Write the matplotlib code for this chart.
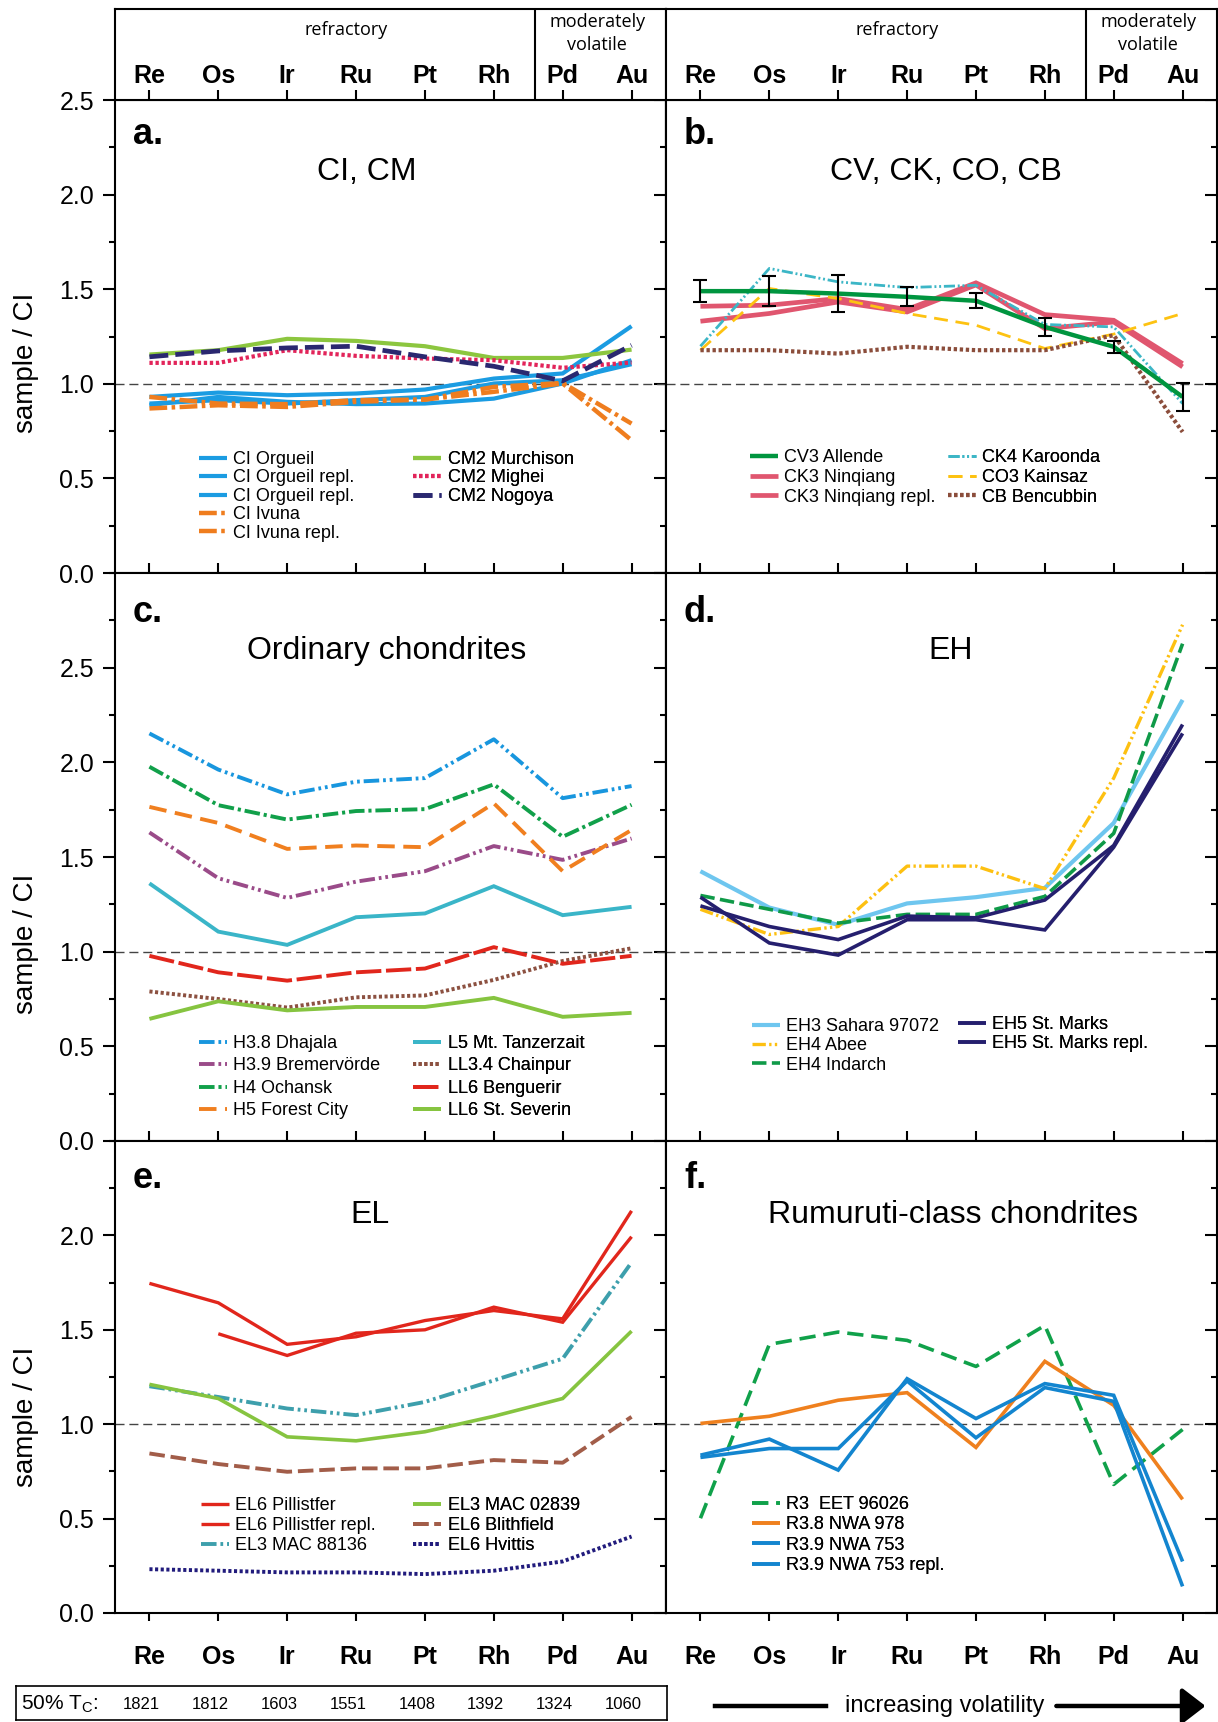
import numpy as np
import matplotlib
matplotlib.use("Agg")
import matplotlib.pyplot as plt
from matplotlib.ticker import MultipleLocator
from matplotlib.lines import Line2D

plt.rcParams['font.family'] = ['Liberation Sans', 'DejaVu Sans']
plt.rcParams['mathtext.fontset'] = 'custom'
plt.rcParams['mathtext.rm'] = 'Liberation Sans'
plt.rcParams['axes.linewidth'] = 1.5

elements = ['Re', 'Os', 'Ir', 'Ru', 'Pt', 'Rh', 'Pd', 'Au']
tc_50 = [1821, 1812, 1603, 1551, 1408, 1392, 1324, 1060]

# a. CI, CM
ci_orgueil = [0.931, 0.954, 0.940, 0.949, 0.970, 1.028, 1.055, 1.305]
ci_orgueil_r1 = [0.887, 0.931, 0.905, 0.893, 0.896, 0.922, 1.002, 1.125]
ci_orgueil_r2 = [0.896, 0.914, 0.896, 0.914, 0.931, 1.002, 1.019, 1.104]
ci_ivuna = [0.931, 0.896, 0.893, 0.914, 0.917, 0.984, 1.005, 0.790]
ci_ivuna_r = [0.870, 0.887, 0.878, 0.905, 0.917, 0.958, 1.002, 0.702]
cm_murchison = [1.155, 1.178, 1.238, 1.227, 1.199, 1.137, 1.137, 1.181]
cm_mighei = [1.111, 1.111, 1.178, 1.148, 1.134, 1.125, 1.085, 1.113]
cm_nogoya = [1.143, 1.174, 1.190, 1.199, 1.143, 1.093, 1.016, 1.204]

# b. CV, CK, CO, CB
cv_allende = [1.490, 1.490, 1.477, 1.460, 1.439, 1.301, 1.196, 0.931]
cv_allende_err = [0.057, 0.078, 0.097, 0.051, 0.040, 0.049, 0.032, 0.076]
ck_ninqiang = [1.410, 1.416, 1.451, 1.393, 1.534, 1.366, 1.336, 1.107]
ck_ninqiang_r = [1.331, 1.372, 1.433, 1.380, 1.523, 1.292, 1.327, 1.090]
ck_karoonda = [1.199, 1.610, 1.539, 1.509, 1.521, 1.314, 1.301, 0.896]
co_kainsaz = [1.178, 1.504, 1.451, 1.372, 1.310, 1.187, 1.263, 1.372]
cb_bencubbin = [1.178, 1.178, 1.160, 1.196, 1.178, 1.178, 1.257, 0.746]

# c. ordinary chondrites
h_dhajala = [2.153, 1.962, 1.831, 1.898, 1.917, 2.122, 1.811, 1.875]
h_bremervoerde = [1.630, 1.388, 1.284, 1.370, 1.425, 1.558, 1.485, 1.598]
h_ochansk = [1.977, 1.774, 1.698, 1.743, 1.753, 1.884, 1.607, 1.776]
h_forest_city = [1.765, 1.680, 1.543, 1.561, 1.552, 1.784, 1.425, 1.643]
l_tanzerzait = [1.361, 1.106, 1.036, 1.182, 1.202, 1.346, 1.193, 1.237]
ll_chainpur = [0.790, 0.750, 0.705, 0.759, 0.769, 0.851, 0.951, 1.018]
ll_benguerir = [0.978, 0.891, 0.847, 0.891, 0.911, 1.024, 0.936, 0.978]
ll_st_severin = [0.645, 0.738, 0.690, 0.708, 0.708, 0.756, 0.656, 0.677]

# d. EH
eh_sahara = [1.425, 1.233, 1.142, 1.255, 1.288, 1.337, 1.680, 2.330]
eh_abee = [1.224, 1.091, 1.133, 1.452, 1.452, 1.333, 1.917, 2.727]
eh_indarch = [1.297, 1.224, 1.151, 1.197, 1.197, 1.292, 1.625, 2.627]
eh_st_marks = [1.242, 1.133, 1.064, 1.188, 1.179, 1.273, 1.561, 2.200]
eh_st_marks_r = [1.288, 1.046, 0.982, 1.169, 1.169, 1.115, 1.552, 2.153]

# e. EL
el_pillistfer = [1.746, 1.643, 1.423, 1.463, 1.549, 1.602, 1.558, 2.130]
el_pillistfer_r = [np.nan, 1.479, 1.364, 1.482, 1.500, 1.620, 1.540, 1.993]
el_mac88136 = [1.201, 1.144, 1.083, 1.048, 1.118, 1.232, 1.347, 1.857]
el_mac02839 = [1.211, 1.136, 0.933, 0.912, 0.960, 1.042, 1.136, 1.493]
el_blithfield = [0.845, 0.789, 0.748, 0.766, 0.766, 0.810, 0.796, 1.039]
el_hvittis = [0.232, 0.224, 0.215, 0.215, 0.206, 0.224, 0.273, 0.405]

# f. Rumuruti
r_eet96026 = [0.502, 1.423, 1.488, 1.444, 1.306, 1.523, 0.681, 0.972]
r_nwa978 = [1.004, 1.042, 1.127, 1.167, 0.877, 1.333, 1.100, 0.602]
r_nwa753 = [0.836, 0.921, 0.757, 1.241, 1.030, 1.215, 1.153, 0.273]
r_nwa753_r = [0.824, 0.871, 0.871, 1.229, 0.928, 1.194, 1.121, 0.141]

x = np.arange(len(elements))

# dash patterns (in units of line width)
DOT = (0.8, 0.65)
DASH = (4.0, 1.5)
LONGDASH = (6.5, 1.2)
DASHDOT = (4.0, 1.0, 0.8, 1.0)
DASHDOTDOT = (4.0, 1.0, 0.7, 1.0, 0.7, 1.0)

fig = plt.figure(figsize=(12.18, 17.22), dpi=100)

XL, XR, W = 0.0944, 0.5468, 0.4524
# (bottom, height, y max, highest labelled tick)
ROWS = [(0.6672, 0.2747, 2.5, 2.5), (0.3374, 0.3298, 3.0, 2.5), (0.0633, 0.2741, 2.5, 2.0)]


def setup(ax, top, label_top, left_col, bottom_row):
    ax.set_xlim(-0.5, 7.5)
    ax.set_ylim(0, top)
    ax.set_xticks(x)
    ax.axhline(1.0, color='#444444', lw=1.0, dashes=(6.5, 3.5), zorder=1)
    if bottom_row:
        ax.tick_params(axis='x', direction='out', top=False, length=6, width=1.5,
                       pad=17, labelsize=18)
        ax.set_xticklabels(elements, fontweight='bold')
    else:
        ax.tick_params(axis='x', direction='in', top=False, length=7, width=1.5,
                       labelbottom=False)
    ax.yaxis.set_minor_locator(MultipleLocator(0.25))
    if left_col:
        ax.set_yticks(np.arange(0, label_top + 0.01, 0.5))
        ax.yaxis.set_major_formatter(matplotlib.ticker.FormatStrFormatter('%.1f'))
        ax.tick_params(axis='y', which='both', direction='out', width=1.5,
                       labelsize=18, pad=6)
        ax.tick_params(axis='y', which='major', length=9)
        ax.tick_params(axis='y', which='minor', length=4)
        sec = ax.secondary_yaxis('right')
        sec.set_yticks(np.arange(0, top + 0.01, 0.5))
        sec.yaxis.set_minor_locator(MultipleLocator(0.25))
        sec.tick_params(which='both', direction='in', labelright=False, width=1.5)
        sec.tick_params(which='major', length=9)
        sec.tick_params(which='minor', length=4)
    else:
        ax.set_yticks(np.arange(0, top + 0.01, 0.5))
        ax.tick_params(axis='y', which='both', direction='in', left=False,
                       right=True, labelleft=False, width=1.5)
        ax.tick_params(axis='y', which='major', length=9)
        ax.tick_params(axis='y', which='minor', length=4)


def line(ax, y, color, lw, dashes=None, label=None, z=3):
    ln, = ax.plot(x, y, color=color, lw=lw, label=label, zorder=z,
                  solid_capstyle='butt', dash_capstyle='butt', solid_joinstyle='miter')
    if dashes:
        ln.set_dashes(dashes)
    return ln


def key(ax, handles, x0, y0, spacing):
    leg = ax.legend(handles=handles, loc='upper left', bbox_to_anchor=(x0, y0),
                    bbox_transform=ax.transData, frameon=False, fontsize=13,
                    handlelength=1.55, handletextpad=0.35, labelspacing=spacing,
                    borderpad=0, borderaxespad=0)
    ax.add_artist(leg)


axes = {}
for r, (yb, h, top, label_top) in enumerate(ROWS):
    for c, xl in enumerate([XL, XR]):
        ax = fig.add_axes([xl, yb, W, h])
        setup(ax, top, label_top, c == 0, r == 2)
        axes['abcdef'[2 * r + c]] = ax
        if c == 0:
            ax.set_ylabel('sample / CI', fontsize=20)

axes['a'].yaxis.set_label_coords(-0.138, 0.444)
axes['c'].yaxis.set_label_coords(-0.138, 0.347)
axes['e'].yaxis.set_label_coords(-0.138, 0.416)

titles = {'a': ('CI, CM', 3.15, 2.12), 'b': ('CV, CK, CO, CB', 3.56, 2.12),
          'c': ('Ordinary chondrites', 3.45, 2.59), 'd': ('EH', 3.63, 2.59),
          'e': ('EL', 3.2, 2.11), 'f': ('Rumuruti-class chondrites', 3.66, 2.11)}
letter_y = {'a': 2.32, 'b': 2.32, 'c': 2.79, 'd': 2.79, 'e': 2.30, 'f': 2.30}
for k, (t, tx, ty) in titles.items():
    axes[k].text(tx, ty, t, ha='center', va='center', fontsize=23)
    axes[k].text(-0.24, letter_y[k], k + '.', ha='left', va='center',
                 fontsize=26, fontweight='bold')

# a
ax = axes['a']
BLUE = '#1b9ce2'
ORANGE = '#ef7d1e'
h1 = [line(ax, ci_orgueil, BLUE, 3.0, label='CI Orgueil'),
      line(ax, ci_orgueil_r1, BLUE, 3.0, label='CI Orgueil repl.'),
      line(ax, ci_orgueil_r2, BLUE, 3.0, label='CI Orgueil repl.'),
      line(ax, ci_ivuna, ORANGE, 3.2, DASHDOT, 'CI Ivuna'),
      line(ax, ci_ivuna_r, ORANGE, 3.2, DASHDOT, 'CI Ivuna repl.')]
h2 = [line(ax, cm_murchison, '#8cc63f', 3.0, label='CM2 Murchison'),
      line(ax, cm_mighei, '#e2245a', 3.0, DOT, 'CM2 Mighei'),
      line(ax, cm_nogoya, '#2a2870', 3.4, DASH, 'CM2 Nogoya')]
key(ax, h1, 0.72, 0.645, 0.08)
key(ax, h2, 3.83, 0.645, 0.08)

# b
ax = axes['b']
PINK = '#e0566f'
h1 = [line(ax, cv_allende, '#00953f', 3.2, label='CV3 Allende', z=4),
      line(ax, ck_ninqiang, PINK, 3.4, label='CK3 Ninqiang'),
      line(ax, ck_ninqiang_r, PINK, 3.4, label='CK3 Ninqiang repl.')]
h2 = [line(ax, ck_karoonda, '#3cb6c6', 2.0, DASHDOTDOT, 'CK4 Karoonda'),
      line(ax, co_kainsaz, '#fdc211', 2.0, (5, 2.8), 'CO3 Kainsaz'),
      line(ax, cb_bencubbin, '#8b4d3b', 3.0, DOT, 'CB Bencubbin')]
ax.errorbar(x, cv_allende, yerr=cv_allende_err, fmt='none', ecolor='black',
            elinewidth=1.5, capsize=5, capthick=1.5, zorder=6)
key(ax, h1, 0.72, 0.655, 0.15)
key(ax, h2, 3.59, 0.655, 0.15)

# c
ax = axes['c']
h1 = [line(ax, h_dhajala, '#1896de', 2.8, DASHDOTDOT, 'H3.8 Dhajala'),
      line(ax, h_bremervoerde, '#9a4b89', 2.8, DASHDOTDOT, 'H3.9 Bremervörde'),
      line(ax, h_ochansk, '#11a04a', 2.8, DASHDOT, 'H4 Ochansk'),
      line(ax, h_forest_city, '#f07f1f', 2.8, (4.5, 2.2), 'H5 Forest City')]
h2 = [line(ax, l_tanzerzait, '#3ab5c8', 2.8, label='L5 Mt. Tanzerzait'),
      line(ax, ll_chainpur, '#8c5141', 2.8, DOT, 'LL3.4 Chainpur'),
      line(ax, ll_benguerir, '#e1261c', 2.8, LONGDASH, 'LL6 Benguerir'),
      line(ax, ll_st_severin, '#86c440', 2.8, label='LL6 St. Severin')]
key(ax, h1, 0.72, 0.56, 0.3)
key(ax, h2, 3.83, 0.56, 0.3)

# d
ax = axes['d']
NAVY = '#251f6e'
h1 = [line(ax, eh_sahara, '#6ec6ef', 3.0, label='EH3 Sahara 97072'),
      line(ax, eh_abee, '#fdc011', 2.4, DASHDOTDOT, 'EH4 Abee'),
      line(ax, eh_indarch, '#0f9a48', 2.6, DASH, 'EH4 Indarch')]
h2 = [line(ax, eh_st_marks, NAVY, 2.6, label='EH5 St. Marks'),
      line(ax, eh_st_marks_r, NAVY, 2.6, label='EH5 St. Marks repl.')]
key(ax, h1, 0.75, 0.65, 0.13)
key(ax, h2, 3.74, 0.66, 0.13)

# e
ax = axes['e']
RED = '#e1261c'
h1 = [line(ax, el_pillistfer, RED, 2.4, label='EL6 Pillistfer'),
      line(ax, el_pillistfer_r, RED, 2.4, label='EL6 Pillistfer repl.'),
      line(ax, el_mac88136, '#3d9fac', 2.8, DASHDOTDOT, 'EL3 MAC 88136')]
h2 = [line(ax, el_mac02839, '#86c440', 2.6, label='EL3 MAC 02839'),
      line(ax, el_blithfield, '#a25d49', 2.8, DASH, 'EL6 Blithfield'),
      line(ax, el_hvittis, '#211b7c', 2.8, DOT, 'EL6 Hvittis')]
key(ax, h1, 0.75, 0.613, 0.17)
key(ax, h2, 3.83, 0.613, 0.17)

# f
ax = axes['f']
RBLUE = '#1385cf'
h1 = [line(ax, r_eet96026, '#10a14a', 2.6, (4.5, 2.2), 'R3  EET 96026'),
      line(ax, r_nwa978, '#ef801e', 2.6, label='R3.8 NWA 978'),
      line(ax, r_nwa753, RBLUE, 2.6, label='R3.9 NWA 753'),
      line(ax, r_nwa753_r, RBLUE, 2.6, label='R3.9 NWA 753 repl.')]
key(ax, h1, 0.75, 0.62, 0.19)

# header boxes above the top row
for xl in [XL, XR]:
    hx = fig.add_axes([xl, 0.9419, W, 0.05285])
    hx.set_xlim(-0.5, 7.5)
    hx.set_ylim(0, 1)
    hx.set_xticks(x)
    hx.set_yticks([])
    hx.tick_params(axis='x', direction='in', length=7, width=1.5, labelbottom=False)
    hx.axvline(5.6, color='black', lw=1.5)
    for i, el in enumerate(elements):
        hx.text(i, 0.26, el, ha='center', va='center', fontsize=18, fontweight='bold')
    hx.text(2.85, 0.77, 'refractory', ha='center', va='center', fontsize=13,
            family=['Open Sans', 'DejaVu Sans'])
    hx.text(6.5, 0.73, 'moderately\nvolatile', ha='center', va='center', fontsize=13,
            linespacing=1.4, family=['Open Sans', 'DejaVu Sans'])

# condensation temperature box
tx = fig.add_axes([0.0131, 0.0012, 0.5345, 0.0197])
tx.set_xlim(-1.937, 7.51)
tx.set_ylim(0, 1)
tx.set_xticks([])
tx.set_yticks([])
for s in tx.spines.values():
    s.set_linewidth(1.2)
tx.text(-1.86, 0.45, r'50% T$_\mathrm{C}$:', ha='left', va='center', fontsize=15)
for i, t in enumerate(tc_50):
    tx.text(i - 0.12, 0.45, str(t), ha='center', va='center', fontsize=12)

# volatility arrow
ya = 0.0093
fig.add_artist(Line2D([0.587, 0.678], [ya, ya], transform=fig.transFigure,
                      color='black', lw=3.2))
fig.text(0.776, ya, 'increasing volatility', ha='center', va='center', fontsize=17)
fig.add_artist(matplotlib.patches.FancyArrowPatch(
    (0.865, ya), (0.992, ya), transform=fig.transFigure,
    arrowstyle='-|>,head_length=0.65,head_width=0.5', mutation_scale=22,
    lw=3.2, color='black'))

fig.savefig('out.png', dpi=100)
